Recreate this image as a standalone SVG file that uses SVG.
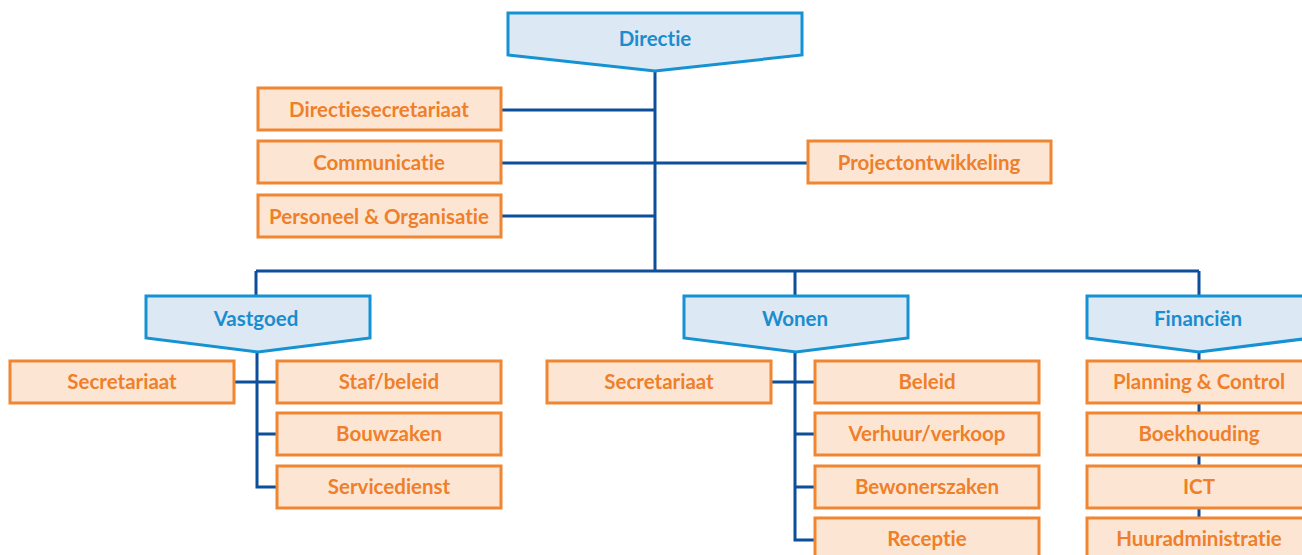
<svg xmlns="http://www.w3.org/2000/svg" width="1302" height="555" viewBox="0 0 1302 555">
<style>
.b{fill:#fce6d3;stroke:#f08631;stroke-width:3}
.h{fill:#dde8f5;stroke:#1592d2;stroke-width:3}
.ot,.ht{font-family:Lato,"Open Sans",sans-serif;font-weight:bold;font-size:20.5px;text-anchor:middle;font-variant-ligatures:none}
.ot{fill:#ef7f2a}
.ht{fill:#1a8dcf}
.c{fill:none;stroke:#0d4f9a;stroke-width:3}
</style>
<rect width="1302" height="555" fill="#fff"/>
<g id="connectors">
<path class="c" d="M655 70V271M501 110H655M501 163H808M501 216H655M256 271H1199M256 271V298M795 271V298M1199 271V298"/>
<path class="c" d="M257 350V487H277M234 382H277M257 434H277"/>
<path class="c" d="M795 350V540H815M771 382H815M795 434H815M795 487H815"/>
<path class="c" d="M1199 350V520"/>
</g>
<g id="directie"><path class="h" d="M508 13H802V55L655 71L508 55Z"/><text class="ht" x="655" y="46">Directie</text></g>
<g id="directiesecretariaat"><rect class="b" x="258" y="88" width="243" height="42"/><text class="ot" x="379" y="117">Directiesecretariaat</text></g>
<g id="communicatie"><rect class="b" x="258" y="141" width="243" height="42"/><text class="ot" x="379" y="170">Communicatie</text></g>
<g id="personeel"><rect class="b" x="258" y="195" width="243" height="42"/><text class="ot" x="379" y="224">Personeel &amp; Organisatie</text></g>
<g id="projectontwikkeling"><rect class="b" x="808" y="141" width="243" height="42"/><text class="ot" x="929" y="170">Projectontwikkeling</text></g>
<g id="vastgoed"><path class="h" d="M146 296H370V338L258 352L146 338Z"/><text class="ht" x="256" y="326">Vastgoed</text></g>
<g id="wonen"><path class="h" d="M684 296H908V338L796 352L684 338Z"/><text class="ht" x="795" y="326">Wonen</text></g>
<g id="financien"><path class="h" d="M1087 296H1311V338L1199 352L1087 338Z"/><text class="ht" x="1198" y="326">Financiën</text></g>
<g id="v-secretariaat"><rect class="b" x="10" y="361" width="224" height="42"/><text class="ot" x="122" y="389">Secretariaat</text></g>
<g id="v-staf"><rect class="b" x="277" y="361" width="224" height="42"/><text class="ot" x="389" y="389">Staf/beleid</text></g>
<g id="v-bouwzaken"><rect class="b" x="277" y="413" width="224" height="42"/><text class="ot" x="389" y="441">Bouwzaken</text></g>
<g id="v-servicedienst"><rect class="b" x="277" y="466" width="224" height="42"/><text class="ot" x="389" y="494">Servicedienst</text></g>
<g id="w-secretariaat"><rect class="b" x="547" y="361" width="224" height="42"/><text class="ot" x="659" y="389">Secretariaat</text></g>
<g id="w-beleid"><rect class="b" x="815" y="361" width="224" height="42"/><text class="ot" x="927" y="389">Beleid</text></g>
<g id="w-verhuur"><rect class="b" x="815" y="413" width="224" height="42"/><text class="ot" x="927" y="441">Verhuur/verkoop</text></g>
<g id="w-bewonerszaken"><rect class="b" x="815" y="466" width="224" height="42"/><text class="ot" x="927" y="494">Bewonerszaken</text></g>
<g id="w-receptie"><rect class="b" x="815" y="518" width="224" height="42"/><text class="ot" x="927" y="546">Receptie</text></g>
<g id="f-planning"><rect class="b" x="1087" y="361" width="224" height="42"/><text class="ot" x="1199" y="389">Planning &amp; Control</text></g>
<g id="f-boekhouding"><rect class="b" x="1087" y="413" width="224" height="42"/><text class="ot" x="1199" y="441">Boekhouding</text></g>
<g id="f-ict"><rect class="b" x="1087" y="466" width="224" height="42"/><text class="ot" x="1199" y="494">ICT</text></g>
<g id="f-huur"><rect class="b" x="1087" y="518" width="224" height="42"/><text class="ot" x="1199" y="546">Huuradministratie</text></g>
</svg>
